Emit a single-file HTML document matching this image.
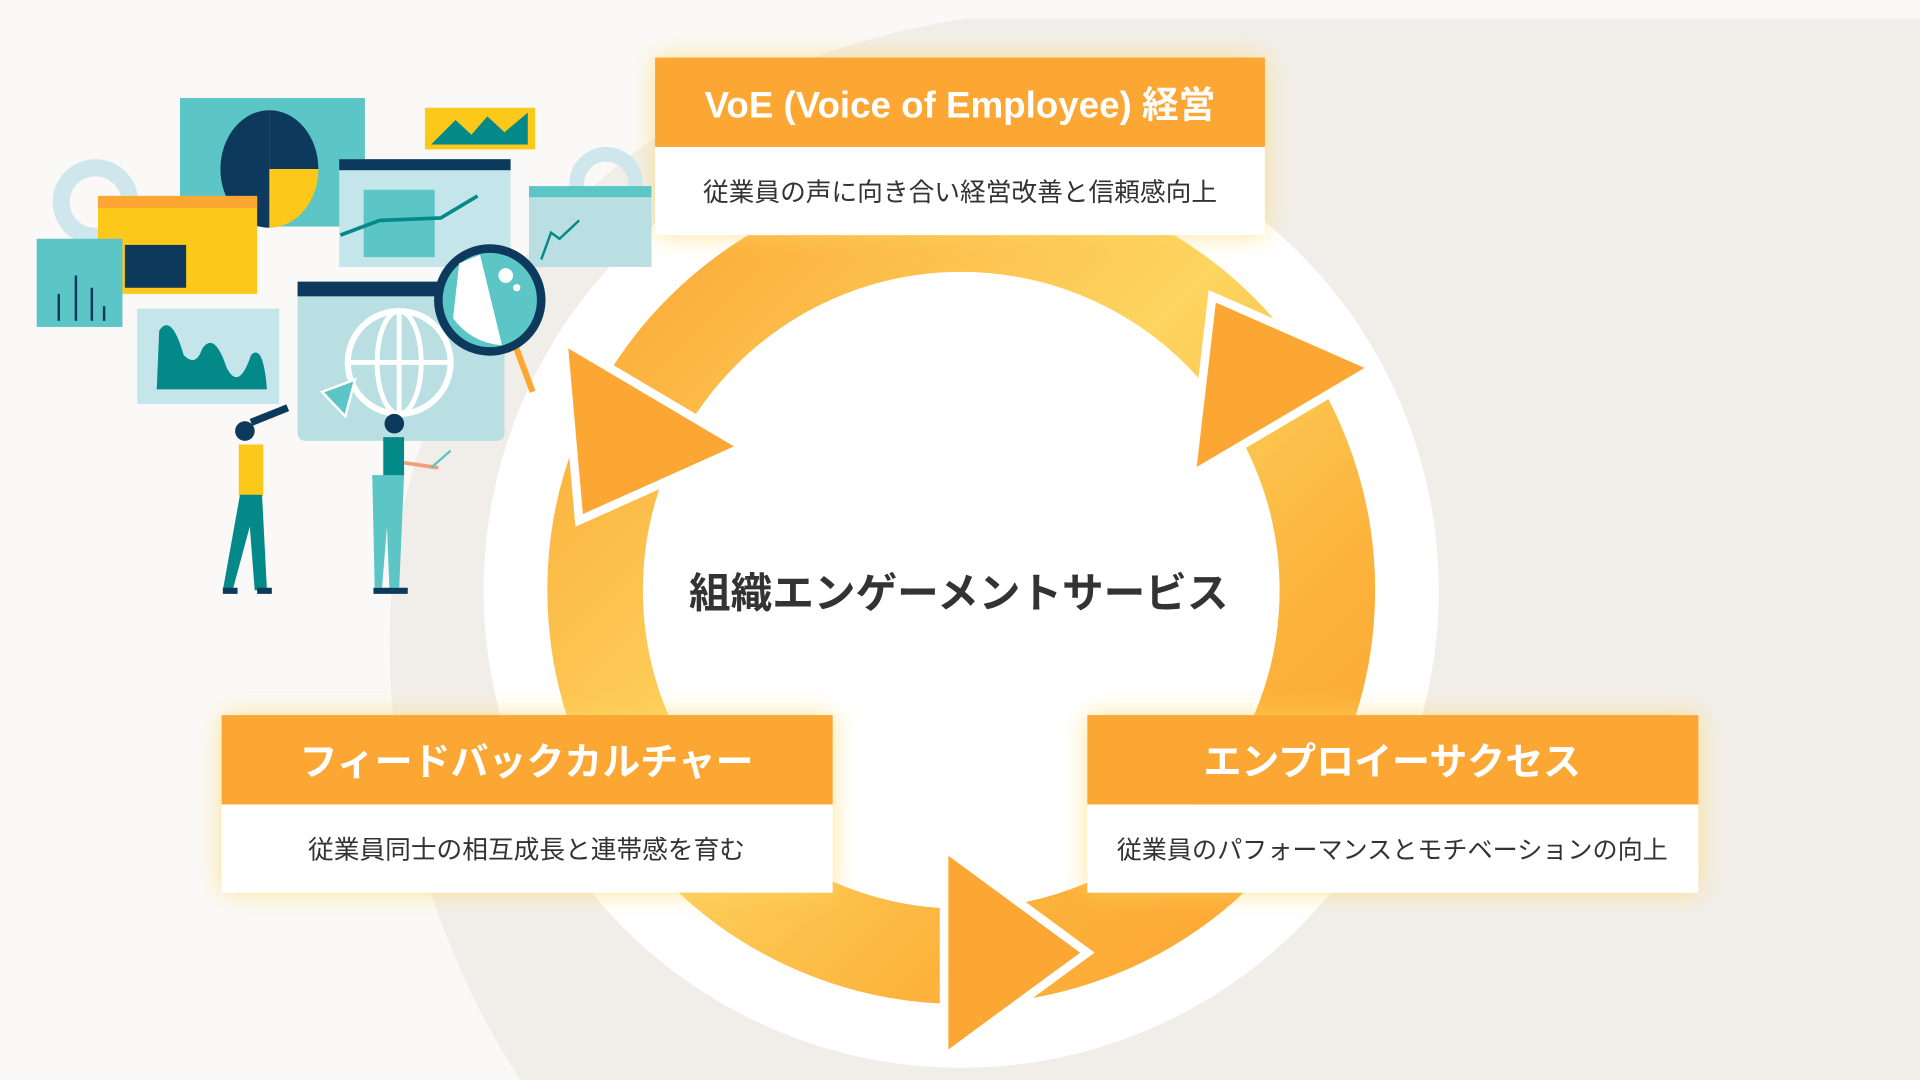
<!DOCTYPE html>
<html><head><meta charset="utf-8"><style>
html,body{margin:0;padding:0;width:1920px;height:1080px;overflow:hidden;background:#faf9f7}
svg{display:block}
text{font-family:"Liberation Sans","Noto Sans CJK JP",sans-serif}
</style></head><body>
<svg width="1920" height="1080" viewBox="0 0 1568 882" preserveAspectRatio="none" xmlns="http://www.w3.org/2000/svg">
<defs>
<linearGradient id="rg" x1="0" y1="0" x2="1" y2="1">
<stop offset="0" stop-color="#fca633"/><stop offset="0.45" stop-color="#fdd560"/><stop offset="0.75" stop-color="#fcb23b"/><stop offset="1" stop-color="#fca632"/>
</linearGradient>
<filter id="glow" x="-20%" y="-40%" width="140%" height="180%"><feGaussianBlur stdDeviation="10"/></filter>
</defs>
<rect width="1568" height="882" fill="#faf9f7"/>
<path d="M790 15 H1568 V882 H425 C345 760 305 600 322 460 C345 260 500 60 790 15 Z" fill="#f1eee9"/>
<circle cx="785" cy="482" r="390" fill="#ffffff"/>
<circle cx="785" cy="482" r="299" fill="none" stroke="url(#rg)" stroke-width="78"/>
<!-- arrowheads -->
<polygon points="460,278 607,365 473,425" fill="#fca633" stroke="#fff" stroke-width="7" stroke-linejoin="miter"/>
<polygon points="990,242 1122,300 973,388" fill="#fca633" stroke="#fff" stroke-width="7"/>
<polygon points="771,692 888,778 771,864" fill="#fca633" stroke="#fff" stroke-width="7"/>
<text x="783" y="496" text-anchor="middle" font-size="34" font-weight="bold" fill="#333">組織エンゲーメントサービス</text>
<!-- boxes -->
<g>
<rect x="535" y="47" width="498" height="145" fill="#fdd866" opacity="0.7" filter="url(#glow)"/>
<rect x="535" y="47" width="498" height="73" fill="#fca633"/>
<rect x="535" y="120" width="498" height="72" fill="#fff"/>
<text x="784" y="96" text-anchor="middle" font-size="30" fill="#fff" font-weight="bold">VoE (Voice of Employee) 経営</text>
<text x="784" y="164" text-anchor="middle" font-size="21" fill="#333">従業員の声に向き合い経営改善と信頼感向上</text>
</g>
<g>
<rect x="181" y="584" width="499" height="145" fill="#fdd866" opacity="0.7" filter="url(#glow)"/>
<rect x="181" y="584" width="499" height="73" fill="#fca633"/>
<rect x="181" y="657" width="499" height="72" fill="#fff"/>
<text x="430" y="633" text-anchor="middle" font-size="31" fill="#fff" font-weight="bold">フィードバックカルチャー</text>
<text x="430" y="701" text-anchor="middle" font-size="21" fill="#333">従業員同士の相互成長と連帯感を育む</text>
</g>
<g>
<rect x="888" y="584" width="499" height="145" fill="#fdd866" opacity="0.7" filter="url(#glow)"/>
<rect x="888" y="584" width="499" height="73" fill="#fca633"/>
<rect x="888" y="657" width="499" height="72" fill="#fff"/>
<text x="1137" y="633" text-anchor="middle" font-size="31" fill="#fff" font-weight="bold">エンプロイーサクセス</text>
<text x="1137" y="701" text-anchor="middle" font-size="20.5" fill="#333">従業員のパフォーマンスとモチベーションの向上</text>
</g>
<!-- illustration -->
<g>
<circle cx="78" cy="165" r="28" fill="none" stroke="#cfe7ec" stroke-width="14"/>
<circle cx="495" cy="150" r="24" fill="none" stroke="#cfe7ec" stroke-width="12"/>
<rect x="147" y="80" width="151" height="105" fill="#5cc5c5"/>
<path d="M220 90 A40 48 0 1 0 220 186 Z" fill="#0d3a5c"/>
<path d="M220 90 A40 48 0 0 1 260 138 H220 Z" fill="#0d3a5c"/>
<path d="M220 138 H260 A40 48 0 0 1 220 186 Z" fill="#fcc81a"/>
<rect x="347" y="88" width="90" height="34" fill="#fcc81a"/>
<polygon points="352,118 372,98 385,110 398,95 412,108 431,92 431,118" fill="#048989"/>
<rect x="277" y="130" width="140" height="88" fill="#c4e5ea"/>
<rect x="277" y="130" width="140" height="9" fill="#0d3a5c"/>
<rect x="297" y="155" width="58" height="55" fill="#5cc5c5"/>
<polyline points="278,192 310,180 360,178 390,160" fill="none" stroke="#048989" stroke-width="3"/>
<rect x="432" y="152" width="100" height="66" fill="#b9dfe2"/>
<rect x="432" y="152" width="100" height="9" fill="#5cc5c5"/>
<polyline points="442,212 450,190 457,195 473,180" fill="none" stroke="#048989" stroke-width="2"/>
<rect x="80" y="160" width="130" height="80" fill="#fcc81a"/>
<rect x="80" y="160" width="130" height="10" fill="#fca633"/>
<rect x="102" y="200" width="50" height="35" fill="#0d3a5c"/>
<rect x="30" y="195" width="70" height="72" fill="#5cc5c5"/>
<g stroke="#0d3a5c" stroke-width="2"><line x1="48" y1="262" x2="48" y2="240"/><line x1="62" y1="262" x2="62" y2="225"/><line x1="75" y1="262" x2="75" y2="235"/><line x1="85" y1="262" x2="85" y2="250"/></g>
<rect x="112" y="252" width="116" height="78" fill="#c4e5ea"/>
<path d="M128 318 L130 270 Q140 255 150 290 Q160 300 165 285 Q175 270 185 300 Q195 320 205 290 Q215 280 218 318 Z" fill="#048989"/>
<rect x="243" y="230" width="169" height="130" rx="6" fill="#b9dfe2"/>
<rect x="243" y="230" width="169" height="12" fill="#0d3a5c"/>
<circle cx="326" cy="296" r="42" fill="none" stroke="#fff" stroke-width="5"/>
<ellipse cx="326" cy="296" rx="18" ry="42" fill="none" stroke="#fff" stroke-width="4"/>
<line x1="284" y1="296" x2="368" y2="296" stroke="#fff" stroke-width="4"/>
<line x1="326" y1="254" x2="326" y2="338" stroke="#fff" stroke-width="4"/>
<polygon points="263,320 290,310 282,340" fill="#5cc5c5" stroke="#fff" stroke-width="2"/>
<line x1="420" y1="280" x2="435" y2="320" stroke="#fca633" stroke-width="5"/>
<circle cx="400" cy="245" r="42" fill="#5cc5c5" stroke="#0d3a5c" stroke-width="7"/>
<path d="M375 215 L392 208 L410 282 Q385 280 370 260 Z" fill="#fff"/>
<circle cx="413" cy="225" r="6" fill="#fff"/><circle cx="422" cy="235" r="3" fill="#fff"/>
<rect x="195" y="363" width="20" height="42" fill="#fcc81a"/>
<polygon points="196,404 214,404 218,482 208,482 204,430 190,482 182,482" fill="#048989"/>
<circle cx="200" cy="352" r="8" fill="#0d3a5c"/>
<line x1="205" y1="345" x2="235" y2="333" stroke="#0d3a5c" stroke-width="6"/>
<rect x="182" y="480" width="12" height="5" fill="#0d3a5c"/><rect x="210" y="480" width="12" height="5" fill="#0d3a5c"/>
<circle cx="322" cy="346" r="8" fill="#0d3a5c"/>
<rect x="313" y="357" width="17" height="32" fill="#048989"/>
<polygon points="304,388 330,388 326,480 318,480 316,430 312,480 306,480" fill="#5cc5c5"/>
<line x1="330" y1="378" x2="358" y2="382" stroke="#f3a07a" stroke-width="3"/>
<line x1="352" y1="382" x2="368" y2="368" stroke="#5cc5c5" stroke-width="2"/>
<rect x="305" y="480" width="28" height="5" fill="#0d3a5c"/>
</g>
</svg>
</body></html>
